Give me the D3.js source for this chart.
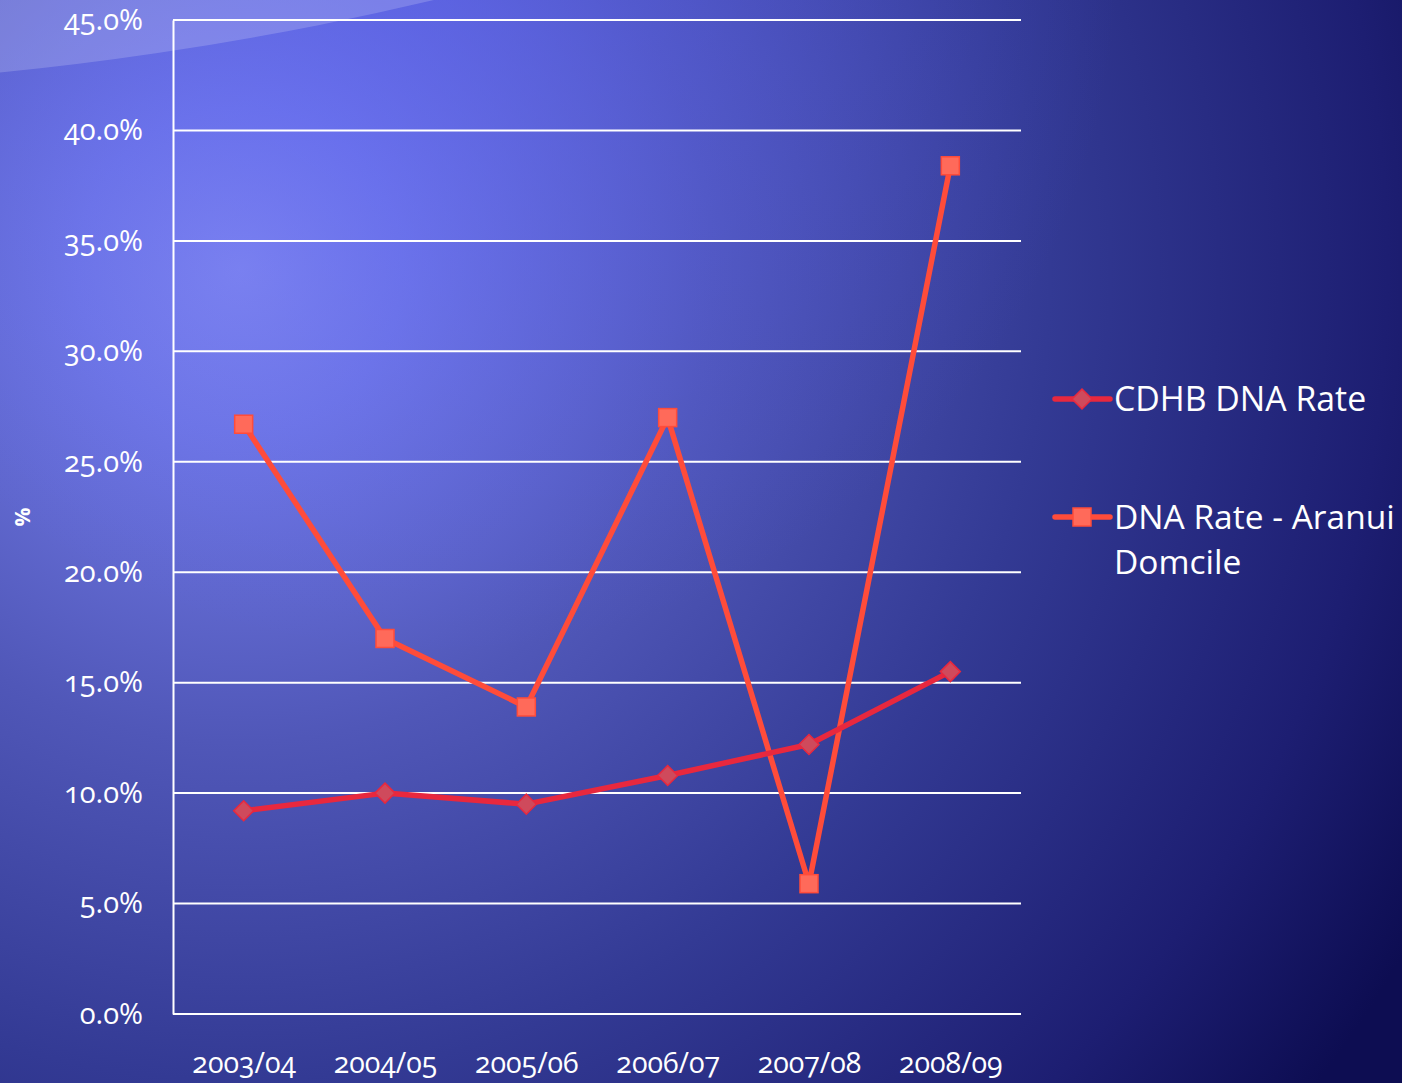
<!DOCTYPE html>
<html>
<head>
<meta charset="utf-8">
<script src="https://cdn.jsdelivr.net/npm/d3@7"></script>
<style>
  html, body { margin: 0; padding: 0; background: #14146a; }
  svg { display: block; }
  text { font-family: "Open Sans", "Lato", sans-serif; fill: #ffffff; }
  .tick-lbl { font-feature-settings: "onum" 1; font-variant-numeric: oldstyle-nums; }
</style>
</head>
<body>
<svg id="chart" width="1402" height="1083"></svg>
<script>
// Financial years on the category axis
const years = ["2003/04", "2004/05", "2005/06", "2006/07", "2007/08", "2008/09"];

// DNA (did not attend) rates, percent
const cdhbRate   = [9.2, 10.0, 9.5, 10.8, 12.2, 15.5];
const aranuiRate = [26.7, 17.0, 13.9, 27.0, 5.9, 38.4];

// Value axis ticks, percent
const yTicks = [0, 5, 10, 15, 20, 25, 30, 35, 40, 45];

const seriesNames = ["CDHB DNA Rate", "DNA Rate - Aranui Domcile"];

const W = 1402, H = 1083;
const plot = { left: 173, right: 1021, top: 20, bottom: 1014 };

const svg = d3.select("#chart");
const defs = svg.append("defs");

// Slide background: bright violet glow at upper left fading to deep navy
const bg = defs.append("radialGradient")
  .attr("id", "bgGrad")
  .attr("gradientUnits", "userSpaceOnUse")
  .attr("cx", 240).attr("cy", 270).attr("r", 1350)
  .attr("fx", 240).attr("fy", 270);
bg.append("stop").attr("offset", "0").attr("stop-color", "#8289ec");
bg.append("stop").attr("offset", "0.12").attr("stop-color", "#7078e4");
bg.append("stop").attr("offset", "0.35").attr("stop-color", "#5057b8");
bg.append("stop").attr("offset", "0.6").attr("stop-color", "#333a94");
bg.append("stop").attr("offset", "0.85").attr("stop-color", "#1d1e72");
bg.append("stop").attr("offset", "1").attr("stop-color", "#0d0d52");

svg.append("rect").attr("width", W).attr("height", H).attr("fill", "url(#bgGrad)");

// Top edge tinted towards bright blue
const topGlow = defs.append("radialGradient")
  .attr("id", "topGlow")
  .attr("gradientUnits", "userSpaceOnUse")
  .attr("cx", 420).attr("cy", -40).attr("r", 700);
topGlow.append("stop").attr("offset", "0").attr("stop-color", "#5a60ff").attr("stop-opacity", 0.45);
topGlow.append("stop").attr("offset", "1").attr("stop-color", "#5a60ff").attr("stop-opacity", 0);
svg.append("rect").attr("width", W).attr("height", H).attr("fill", "url(#topGlow)");

// Soft highlight swoosh across the top-left corner
svg.append("circle")
  .attr("cx", -330).attr("cy", -3234)
  .attr("r", 3323)
  .attr("fill", "#ffffff").attr("fill-opacity", 0.18);

const x = d3.scalePoint().domain(years).range([plot.left, plot.right]).padding(0.5);
const y = d3.scaleLinear().domain([0, 45]).range([plot.bottom, plot.top]);

// Horizontal gridlines
svg.append("g")
  .selectAll("line")
  .data(yTicks)
  .join("line")
  .attr("x1", plot.left).attr("x2", plot.right)
  .attr("y1", d => y(d)).attr("y2", d => y(d))
  .attr("stroke", "#ffffff").attr("stroke-width", 2);

// Value axis
const yAxis = svg.append("g")
  .attr("transform", `translate(${plot.left},0)`)
  .call(d3.axisLeft(y).tickValues(yTicks).tickSize(0).tickPadding(30)
    .tickFormat(d => d.toFixed(1) + "%"));
yAxis.select(".domain").attr("stroke", "#ffffff").attr("stroke-width", 2);
yAxis.selectAll("text")
  .attr("class", "tick-lbl")
  .attr("font-size", 29)
  .attr("fill", "#ffffff")
  .attr("dy", "0.32em");

// Category axis labels
const xAxis = svg.append("g")
  .attr("transform", `translate(0,${plot.bottom})`)
  .call(d3.axisBottom(x).tickSize(0).tickPadding(39));
xAxis.select(".domain").remove();
xAxis.selectAll("text")
  .attr("class", "tick-lbl")
  .attr("font-size", 28.5)
  .attr("fill", "#ffffff");

// Axis title
svg.append("text")
  .attr("transform", "translate(30,517) rotate(-90)")
  .attr("text-anchor", "middle")
  .attr("font-size", 21)
  .attr("font-weight", "bold")
  .text("%");

const line = d3.line().x((d, i) => x(years[i])).y(d => y(d));

const cdhbColor = "#e8283e", cdhbFill = "#cf4a5c";
const aranuiColor = "#ff4c3a", aranuiFill = "#ff6a5a";

// Aranui series
svg.append("path")
  .datum(aranuiRate)
  .attr("d", line)
  .attr("fill", "none")
  .attr("stroke", aranuiColor)
  .attr("stroke-width", 5.5)
  .attr("stroke-linejoin", "miter");

// CDHB series
svg.append("path")
  .datum(cdhbRate)
  .attr("d", line)
  .attr("fill", "none")
  .attr("stroke", cdhbColor)
  .attr("stroke-width", 5.5)
  .attr("stroke-linejoin", "round");

const sq = 18, dm = 10;

svg.append("g")
  .selectAll("rect")
  .data(aranuiRate)
  .join("rect")
  .attr("x", (d, i) => x(years[i]) - sq / 2)
  .attr("y", d => y(d) - sq / 2)
  .attr("width", sq).attr("height", sq)
  .attr("fill", aranuiFill)
  .attr("stroke", aranuiColor).attr("stroke-width", 1.5);

const diamond = (cx, cy) => `M${cx},${cy - dm}L${cx + dm},${cy}L${cx},${cy + dm}L${cx - dm},${cy}Z`;

svg.append("g")
  .selectAll("path")
  .data(cdhbRate)
  .join("path")
  .attr("d", (d, i) => diamond(x(years[i]), y(d)))
  .attr("fill", cdhbFill)
  .attr("stroke", cdhbColor).attr("stroke-width", 1.5);

// Legend
const legend = svg.append("g");
const lx0 = 1055, lx1 = 1110, lxm = 1082;

legend.append("line")
  .attr("x1", lx0).attr("x2", lx1).attr("y1", 399).attr("y2", 399)
  .attr("stroke", cdhbColor).attr("stroke-width", 5.5).attr("stroke-linecap", "round");
legend.append("path")
  .attr("d", diamond(lxm, 399))
  .attr("fill", cdhbFill).attr("stroke", cdhbColor).attr("stroke-width", 1.5);
legend.append("text")
  .attr("x", 1114).attr("y", 399).attr("dy", "0.35em")
  .attr("font-size", 33.8)
  .text(seriesNames[0]);

legend.append("line")
  .attr("x1", lx0).attr("x2", lx1).attr("y1", 517).attr("y2", 517)
  .attr("stroke", aranuiColor).attr("stroke-width", 5.5).attr("stroke-linecap", "round");
legend.append("rect")
  .attr("x", lxm - sq / 2).attr("y", 517 - sq / 2).attr("width", sq).attr("height", sq)
  .attr("fill", aranuiFill).attr("stroke", aranuiColor).attr("stroke-width", 1.5);
const t2 = legend.append("text")
  .attr("x", 1114).attr("y", 517).attr("dy", "0.35em")
  .attr("font-size", 33.5);
t2.append("tspan").attr("x", 1114).text("DNA Rate - Aranui");
t2.append("tspan").attr("x", 1114).attr("dy", 45).text("Domcile");
</script>
</body>
</html>
